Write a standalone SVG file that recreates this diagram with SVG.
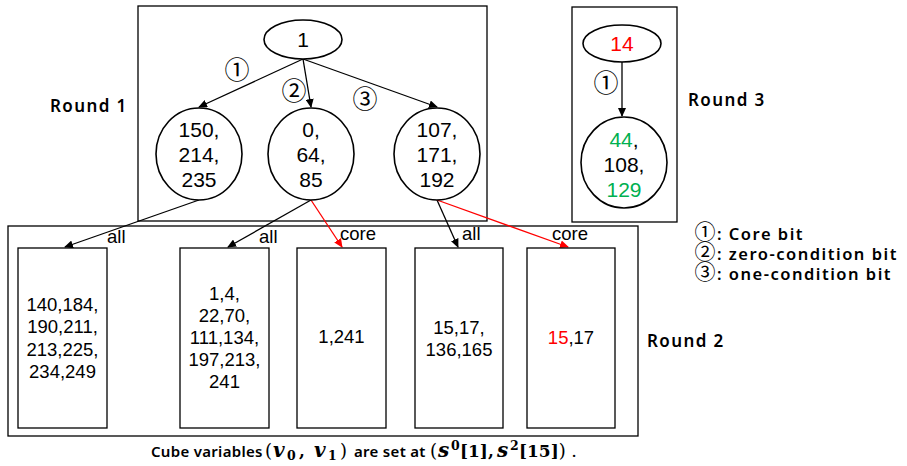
<svg xmlns="http://www.w3.org/2000/svg" width="907" height="466" viewBox="0 0 907 466">
  <defs>
    <marker id="arrow-black" markerWidth="9" markerHeight="8" refX="8" refY="4" orient="auto" markerUnits="userSpaceOnUse">
      <path d="M0,0 L9,4 L0,8 Z" fill="#000"/>
    </marker>
    <marker id="arrow-red" markerWidth="9" markerHeight="8" refX="8" refY="4" orient="auto" markerUnits="userSpaceOnUse">
      <path d="M0,0 L9,4 L0,8 Z" fill="#f00"/>
    </marker>
  </defs>
  <style>
    .frame { fill: none; stroke: #000; stroke-width: 1.3; }
    .node { fill: #fff; stroke: #000; stroke-width: 1.6; }
    .box { fill: #fff; stroke: #000; stroke-width: 1.3; }
    .num { font-family: "Liberation Sans", Arial, sans-serif; font-size: 21px; fill: #000; text-anchor: middle; }
    .bnum { font-family: "Liberation Sans", Arial, sans-serif; font-size: 18.5px; fill: #000; text-anchor: middle; }
    .lbl { font-family: "Noto Sans", "Noto Sans CJK SC", sans-serif; font-size: 17px; font-weight: 600; letter-spacing: 1.4px; fill: #000; }
    .leg { font-family: "Noto Sans", "Noto Sans CJK SC", sans-serif; font-size: 16.5px; font-weight: 600; letter-spacing: 1.5px; fill: #000; }
    .cap { font-family: "Noto Sans", "Noto Sans CJK SC", sans-serif; font-size: 15px; font-weight: 600; letter-spacing: 0.3px; fill: #000; }
    .edge { font-family: "Liberation Sans", Arial, sans-serif; font-size: 18.5px; fill: #000; }
    .circ { font-family: "Noto Sans CJK SC", sans-serif; font-size: 25px; fill: #000; text-anchor: middle; }
    .lcirc { font-family: "Noto Sans CJK SC", sans-serif; font-size: 21px; font-weight: normal; letter-spacing: 0; }
    .link { fill: none; stroke: #000; stroke-width: 1.3; marker-end: url(#arrow-black); }
    .link-red { fill: none; stroke: #f00; stroke-width: 1.3; marker-end: url(#arrow-red); }
    .red { fill: #f00; }
    .green { fill: #00b050; }
    .mi { font-family: "DejaVu Serif", "Liberation Serif", serif; font-weight: bold; font-style: italic; font-size: 20px; }
    .mn { font-family: "DejaVu Serif", "Liberation Serif", serif; font-weight: bold; font-size: 17px; }
    .mp { font-family: "DejaVu Serif", "Liberation Serif", serif; font-size: 18px; }
    .ms { font-family: "DejaVu Serif", "Liberation Serif", serif; font-weight: bold; font-size: 12.5px; }
  </style>

  <!-- frames -->
  <rect class="frame" x="138" y="6" width="349" height="215"/>
  <rect class="frame" x="572" y="7" width="105" height="215"/>
  <rect class="frame" x="8" y="226" width="630" height="210"/>

  <text class="lbl" x="50" y="112">Round 1</text>
  <text class="lbl" x="688" y="106">Round 3</text>
  <text class="lbl" x="647" y="347">Round 2</text>

  <!-- connectors -->
  <g id="connectors">
    <line class="link" x1="303" y1="59" x2="199" y2="107"/>
    <line class="link" x1="303" y1="59" x2="311" y2="107"/>
    <line class="link" x1="303" y1="59" x2="437" y2="107"/>
    <line class="link" x1="622" y1="62" x2="622" y2="116"/>
    <line class="link" x1="199" y1="200" x2="65" y2="247"/>
    <line class="link" x1="311" y1="200" x2="228" y2="247"/>
    <line class="link-red" x1="311" y1="200" x2="342" y2="247"/>
    <line class="link" x1="437" y1="200" x2="458" y2="247"/>
    <line class="link-red" x1="437" y1="200" x2="568" y2="247"/>
    <text class="circ" x="237" y="79">①</text>
    <text class="circ" x="294" y="100">②</text>
    <text class="circ" x="365" y="108">③</text>
    <text class="circ" x="606" y="92">①</text>
    <text class="edge" x="107" y="243">all</text>
    <text class="edge" x="259" y="243">all</text>
    <text class="edge" x="340" y="240">core</text>
    <text class="edge" x="462" y="240">all</text>
    <text class="edge" x="552" y="240">core</text>
  </g>

  <!-- round 1 -->
  <g id="n-root">
    <ellipse class="node" cx="303" cy="39.5" rx="39" ry="19.5"/>
    <text class="num" x="303" y="47">1</text>
  </g>
  <g id="n-r1-a">
    <ellipse class="node" cx="199" cy="154" rx="43" ry="46"/>
    <text class="num" x="199" y="137">150,</text>
    <text class="num" x="199" y="162">214,</text>
    <text class="num" x="199" y="187">235</text>
  </g>
  <g id="n-r1-b">
    <ellipse class="node" cx="311" cy="154" rx="43" ry="46"/>
    <text class="num" x="311" y="137">0,</text>
    <text class="num" x="311" y="162">64,</text>
    <text class="num" x="311" y="187">85</text>
  </g>
  <g id="n-r1-c">
    <ellipse class="node" cx="437" cy="154" rx="43" ry="46"/>
    <text class="num" x="437" y="137">107,</text>
    <text class="num" x="437" y="162">171,</text>
    <text class="num" x="437" y="187">192</text>
  </g>

  <!-- round 3 -->
  <g id="n-r3-root">
    <ellipse class="node" cx="622" cy="43.5" rx="39" ry="18.5"/>
    <text class="num red" x="622" y="51">14</text>
  </g>
  <g id="n-r3-a">
    <ellipse class="node" cx="624" cy="162.5" rx="43" ry="45.5"/>
    <text class="num" x="624" y="147"><tspan class="green">44</tspan>,</text>
    <text class="num" x="624" y="172">108,</text>
    <text class="num green" x="624" y="197">129</text>
  </g>

  <!-- round 2 -->
  <g id="n-r2-a">
    <rect class="box" x="18" y="248" width="89" height="180"/>
    <text class="bnum" x="62.5" y="310.5">140,184,</text>
    <text class="bnum" x="62.5" y="333">190,211,</text>
    <text class="bnum" x="62.5" y="355.5">213,225,</text>
    <text class="bnum" x="62.5" y="378">234,249</text>
  </g>
  <g id="n-r2-b">
    <rect class="box" x="180" y="248" width="89" height="180"/>
    <text class="bnum" x="224.5" y="300">1,4,</text>
    <text class="bnum" x="224.5" y="322">22,70,</text>
    <text class="bnum" x="224.5" y="344">111,134,</text>
    <text class="bnum" x="224.5" y="366">197,213,</text>
    <text class="bnum" x="224.5" y="388">241</text>
  </g>
  <g id="n-r2-c">
    <rect class="box" x="297" y="248" width="89" height="180"/>
    <text class="bnum" x="341.5" y="343">1,241</text>
  </g>
  <g id="n-r2-d">
    <rect class="box" x="415" y="248" width="88" height="180"/>
    <text class="bnum" x="459" y="334">15,17,</text>
    <text class="bnum" x="459" y="356">136,165</text>
  </g>
  <g id="n-r2-e">
    <rect class="box" x="527" y="248" width="88" height="180"/>
    <text class="bnum" x="571" y="344"><tspan class="red">15</tspan>,17</text>
  </g>

  <!-- legend: one multi-line text block -->
  <g id="legend">
    <text class="leg" y="240"><tspan class="lcirc" x="694.5" dy="-1">①</tspan><tspan dx="1.5" dy="1">: Core bit</tspan><tspan class="lcirc" x="694.5" dy="19">②</tspan><tspan dx="1.5" dy="1">: zero-condition bit</tspan><tspan class="lcirc" x="694.5" dy="19">③</tspan><tspan dx="1.5" dy="1">: one-condition bit</tspan></text>
  </g>

  <!-- caption -->
  <g id="caption">
    <text class="cap" x="151" y="457">Cube variables</text>
    <text y="457"><tspan class="mp" x="265">(</tspan><tspan class="mi" x="273">v</tspan><tspan class="ms" x="287" dy="3">0</tspan><tspan class="mn" x="299" dy="-3">,</tspan><tspan class="mi" x="314">v</tspan><tspan class="ms" x="328" dy="3">1</tspan><tspan class="mp" x="340" dy="-3">)</tspan></text>
    <text class="cap" x="354" y="457">are set at</text>
    <text y="457"><tspan class="mp" x="430">(</tspan><tspan class="mi" x="438">s</tspan><tspan class="ms" x="451" dy="-7">0</tspan><tspan class="mn" x="460" dy="7">[1],</tspan><tspan class="mi" x="497">s</tspan><tspan class="ms" x="510" dy="-7">2</tspan><tspan class="mn" x="519" dy="7">[15]</tspan><tspan class="mp">)</tspan></text>
    <text class="cap" x="572" y="457">.</text>
  </g>
</svg>
